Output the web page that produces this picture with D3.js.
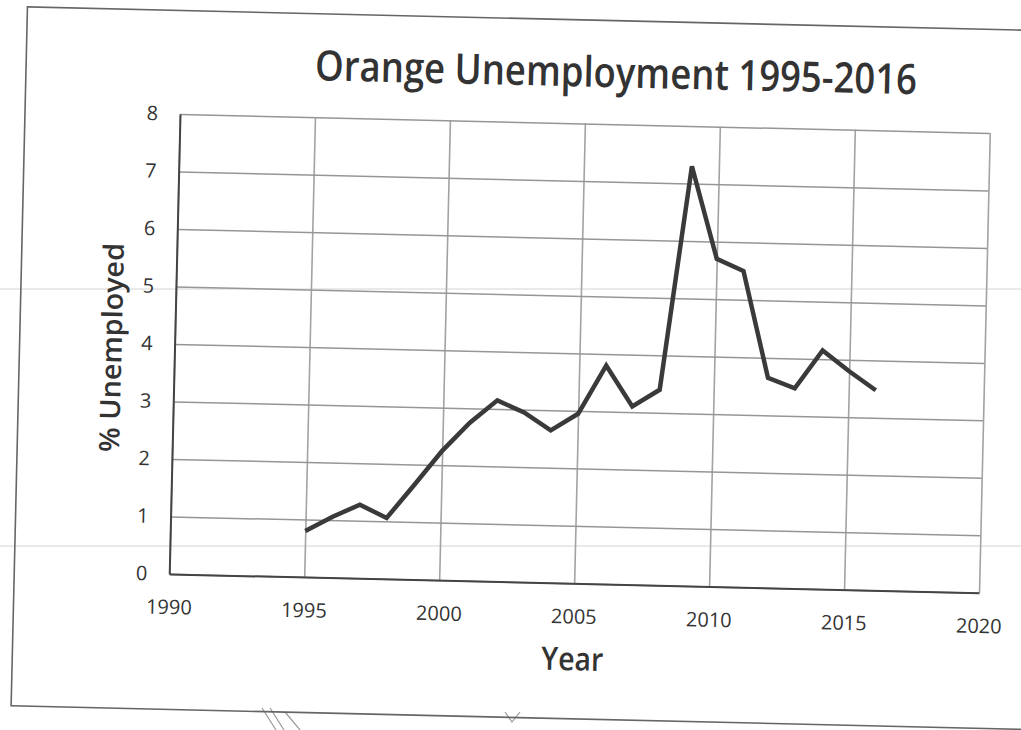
<!DOCTYPE html>
<html>
<head>
<meta charset="utf-8">
<script src="https://cdn.jsdelivr.net/npm/d3@7/dist/d3.min.js"></script>
<style>
  body { margin: 0; background: #fff; }
  text { font-family: "Open Sans", "Noto Sans", sans-serif; fill: #333; }
</style>
</head>
<body>
<svg id="chart" width="1021" height="730"></svg>
<script>
// data
const years = [1995, 1996, 1997, 1998, 1999, 2000, 2001, 2002, 2003, 2004, 2005,
               2006, 2007, 2008, 2009, 2010, 2011, 2012, 2013, 2014, 2015, 2016];
const unemployed = [0.8, 1.06, 1.28, 1.06, 1.65, 2.25, 2.75, 3.15, 2.95, 2.65, 2.95,
                    3.8, 3.1, 3.4, 7.3, 5.7, 5.5, 3.65, 3.48, 4.15, 3.8, 3.48];
const xTicks = [1990, 1995, 2000, 2005, 2010, 2015, 2020];
const yTicks = [0, 1, 2, 3, 4, 5, 6, 7, 8];
const title = "Orange Unemployment 1995-2016";
const xTitle = "Year";
const yTitle = "% Unemployed";

const svg = d3.select("#chart");
svg.append("rect").attr("width", 1021).attr("height", 730).attr("fill", "#fff");

// faint scanner streaks (not rotated)
[289, 546].forEach(yy => {
    svg.append("line")
        .attr("x1", 0).attr("x2", 1021).attr("y1", yy).attr("y2", yy)
        .attr("stroke", "#d4d4d4").attr("stroke-width", 1);
});

// pencil marks showing under the chart at the bottom of the scan
const scribbles = [
    [[262, 708], [276, 730]], [[270, 708], [284, 730]],
    [[285, 712], [300, 730]], [[505, 712], [512, 722], [520, 712]]
];
svg.append("g").selectAll("path")
    .data(scribbles)
    .join("path")
    .attr("d", d3.line())
    .attr("fill", "none")
    .attr("stroke", "#9a9a9a")
    .attr("stroke-width", 1.2);

// the whole page is scanned with a small tilt
const tilt = 1.34;
const page = svg.append("g").attr("transform", `rotate(${tilt},180,114)`);

// outer chart border
page.append("rect")
    .attr("x", 25).attr("y", 10.5)
    .attr("width", 1200).attr("height", 699)
    .attr("fill", "none")
    .attr("stroke", "#666").attr("stroke-width", 1.6);

const margin = { left: 180, top: 114 };
const width = 810, height = 460;

const x = d3.scaleLinear().domain([1990, 2020]).range([0, width]);
const y = d3.scaleLinear().domain([0, 8]).range([height, 0]);

const g = page.append("g").attr("transform", `translate(${margin.left},${margin.top})`);

// 网格线
g.append("g")
    .attr("class", "x grid")
    .attr("transform", `translate(0,${height})`)
    .call(d3.axisBottom(x).tickValues(xTicks).tickSize(-height).tickFormat(""))
    .call(s => s.select(".domain").remove())
    .selectAll("line").attr("stroke", "#a3a3a3").attr("stroke-width", 1.6);

g.append("g")
    .attr("class", "y grid")
    .call(d3.axisLeft(y).tickValues(yTicks).tickSize(-width).tickFormat(""))
    .call(s => s.select(".domain").remove())
    .selectAll("line").attr("stroke", "#969696").attr("stroke-width", 1.5);

// axes
const xAxis = g.append("g")
    .attr("transform", `translate(0,${height})`)
    .call(d3.axisBottom(x).tickValues(xTicks).tickSize(0).tickPadding(26).tickFormat(d3.format("d")));
xAxis.select(".domain").attr("stroke", "#444").attr("stroke-width", 2);
xAxis.selectAll("text").attr("font-size", 20).attr("fill", "#2a2a2a")
    .style("font-family", "'Open Sans', sans-serif");

const yAxis = g.append("g")
    .call(d3.axisLeft(y).tickValues(yTicks).tickSize(0).tickPadding(22));
yAxis.select(".domain").attr("stroke", "#444").attr("stroke-width", 2);
yAxis.selectAll("text").attr("font-size", 20).attr("fill", "#2a2a2a")
    .style("font-family", "'Open Sans', sans-serif");

// 绘制线条
const line = d3.line()
    .x((d, i) => x(years[i]))
    .y(d => y(d));

g.append("path")
    .datum(unemployed)
    .attr("fill", "none")
    .attr("stroke", "#3a3a3a")
    .attr("stroke-width", 4.5)
    .attr("stroke-linejoin", "miter")
    .attr("d", line);

// titles
page.append("text")
    .attr("x", 615).attr("y", 77)
    .attr("text-anchor", "middle")
    .attr("font-size", 42).attr("font-weight", 600)
    .attr("textLength", 602).attr("lengthAdjust", "spacingAndGlyphs")
    .text(title);

page.append("text")
    .attr("x", 585).attr("y", 661)
    .attr("text-anchor", "middle")
    .attr("font-size", 32).attr("font-weight", 600)
    .attr("textLength", 62).attr("lengthAdjust", "spacingAndGlyphs")
    .text(xTitle);

page.append("text")
    .attr("transform", "translate(127,349) rotate(-90)")
    .attr("text-anchor", "middle")
    .attr("font-size", 28).attr("font-weight", 600)
    .attr("textLength", 209).attr("lengthAdjust", "spacingAndGlyphs")
    .text(yTitle);
</script>
</body>
</html>
